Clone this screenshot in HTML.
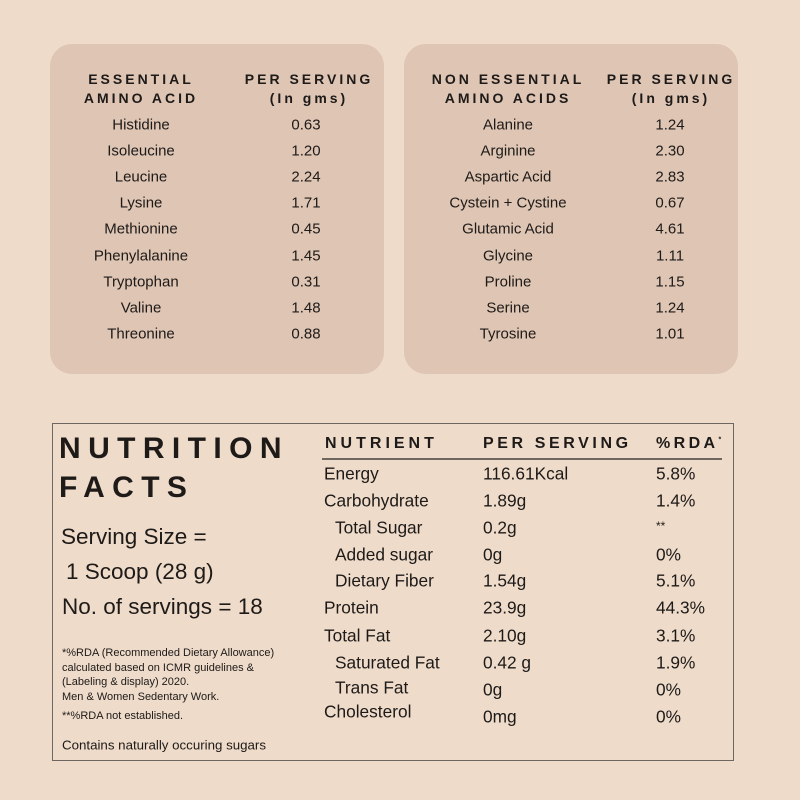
<!DOCTYPE html>
<html><head><style>
body{margin:0;width:800px;height:800px;background:#eedbca;font-family:"Liberation Sans",sans-serif;color:#1d1a18;position:relative;overflow:hidden}
.p{position:absolute;top:44px;width:334px;height:330px;background:#dfc5b4;border-radius:22px}
.t{position:absolute;white-space:nowrap;transform:translate(-50%,-50%);font-size:15px}
.h{font-weight:bold;letter-spacing:3px;font-size:14px}
.l{position:absolute;white-space:nowrap;transform:translateY(-50%)}
.n{font-size:17.3px}
.box{position:absolute;left:52px;top:423px;width:680px;height:336px;border:1.5px solid #6e6660}
</style></head><body>
<div class="p" style="left:50px"></div>
<div class="p" style="left:404px"></div>
<div class="t h" style="left:141px;top:79px">ESSENTIAL</div>
<div class="t h" style="left:141px;top:98px">AMINO ACID</div>
<div class="t h" style="left:309px;top:79px">PER SERVING</div>
<div class="t h" style="left:309px;top:98px">(In gms)</div>
<div class="t h" style="left:508px;top:79px">NON ESSENTIAL</div>
<div class="t h" style="left:508px;top:98px">AMINO ACIDS</div>
<div class="t h" style="left:671px;top:79px">PER SERVING</div>
<div class="t h" style="left:671px;top:98px">(In gms)</div>

<div class="t" style="left:141px;top:125px">Histidine</div><div class="t" style="left:306px;top:125px">0.63</div>
<div class="t" style="left:141px;top:151px">Isoleucine</div><div class="t" style="left:306px;top:151px">1.20</div>
<div class="t" style="left:141px;top:177px">Leucine</div><div class="t" style="left:306px;top:177px">2.24</div>
<div class="t" style="left:141px;top:203px">Lysine</div><div class="t" style="left:306px;top:203px">1.71</div>
<div class="t" style="left:141px;top:229px">Methionine</div><div class="t" style="left:306px;top:229px">0.45</div>
<div class="t" style="left:141px;top:256px">Phenylalanine</div><div class="t" style="left:306px;top:256px">1.45</div>
<div class="t" style="left:141px;top:282px">Tryptophan</div><div class="t" style="left:306px;top:282px">0.31</div>
<div class="t" style="left:141px;top:308px">Valine</div><div class="t" style="left:306px;top:308px">1.48</div>
<div class="t" style="left:141px;top:334px">Threonine</div><div class="t" style="left:306px;top:334px">0.88</div>

<div class="t" style="left:508px;top:125px">Alanine</div><div class="t" style="left:670px;top:125px">1.24</div>
<div class="t" style="left:508px;top:151px">Arginine</div><div class="t" style="left:670px;top:151px">2.30</div>
<div class="t" style="left:508px;top:177px">Aspartic Acid</div><div class="t" style="left:670px;top:177px">2.83</div>
<div class="t" style="left:508px;top:203px">Cystein + Cystine</div><div class="t" style="left:670px;top:203px">0.67</div>
<div class="t" style="left:508px;top:229px">Glutamic Acid</div><div class="t" style="left:670px;top:229px">4.61</div>
<div class="t" style="left:508px;top:256px">Glycine</div><div class="t" style="left:670px;top:256px">1.11</div>
<div class="t" style="left:508px;top:282px">Proline</div><div class="t" style="left:670px;top:282px">1.15</div>
<div class="t" style="left:508px;top:308px">Serine</div><div class="t" style="left:670px;top:308px">1.24</div>
<div class="t" style="left:508px;top:334px">Tyrosine</div><div class="t" style="left:670px;top:334px">1.01</div>

<div class="box"></div>
<div class="l" style="left:59px;top:449px;font-size:30px;font-weight:bold;letter-spacing:7.4px">NUTRITION</div>
<div class="l" style="left:59px;top:488px;font-size:30px;font-weight:bold;letter-spacing:7.4px">FACTS</div>
<div class="l" style="left:61px;top:537px;font-size:22.5px">Serving Size =</div>
<div class="l" style="left:66px;top:572px;font-size:22.5px">1 Scoop (28 g)</div>
<div class="l" style="left:62px;top:607px;font-size:22.5px">No. of servings = 18</div>
<div class="l" style="left:62px;top:653px;font-size:11px">*%RDA (Recommended Dietary Allowance)</div>
<div class="l" style="left:62px;top:668px;font-size:11px">calculated based on ICMR guidelines &amp;</div>
<div class="l" style="left:62px;top:682px;font-size:11px">(Labeling &amp; display) 2020.</div>
<div class="l" style="left:62px;top:697px;font-size:11px">Men &amp; Women Sedentary Work.</div>
<div class="l" style="left:62px;top:716px;font-size:11px">**%RDA not established.</div>
<div class="l" style="left:62px;top:745px;font-size:13.3px">Contains naturally occuring sugars</div>

<div class="l h" style="left:325px;top:444px;font-size:16px;letter-spacing:4px">NUTRIENT</div>
<div class="l h" style="left:483px;top:444px;font-size:16px;letter-spacing:3.6px">PER SERVING</div>
<div class="l h" style="left:656px;top:444px;font-size:16px;letter-spacing:3.4px">%RDA<sup style="font-size:7px">*</sup></div>
<div style="position:absolute;left:322px;top:458px;width:400px;height:1.5px;background:#6e6660"></div>

<div class="l n" style="left:324px;top:474px">Energy</div><div class="l n" style="left:483px;top:474px">116.61Kcal</div><div class="l n" style="left:656px;top:474px">5.8%</div>
<div class="l n" style="left:324px;top:501px">Carbohydrate</div><div class="l n" style="left:483px;top:501px">1.89g</div><div class="l n" style="left:656px;top:501px">1.4%</div>
<div class="l n" style="left:335px;top:528px">Total Sugar</div><div class="l n" style="left:483px;top:528px">0.2g</div><div class="l n" style="left:656px;top:526px;font-size:12px">**</div>
<div class="l n" style="left:335px;top:555px">Added sugar</div><div class="l n" style="left:483px;top:555px">0g</div><div class="l n" style="left:656px;top:555px">0%</div>
<div class="l n" style="left:335px;top:581px">Dietary Fiber</div><div class="l n" style="left:483px;top:581px">1.54g</div><div class="l n" style="left:656px;top:581px">5.1%</div>
<div class="l n" style="left:324px;top:608px">Protein</div><div class="l n" style="left:483px;top:608px">23.9g</div><div class="l n" style="left:656px;top:608px">44.3%</div>
<div class="l n" style="left:324px;top:636px">Total Fat</div><div class="l n" style="left:483px;top:636px">2.10g</div><div class="l n" style="left:656px;top:636px">3.1%</div>
<div class="l n" style="left:335px;top:663px">Saturated Fat</div><div class="l n" style="left:483px;top:663px">0.42 g</div><div class="l n" style="left:656px;top:663px">1.9%</div>
<div class="l n" style="left:335px;top:688px">Trans Fat</div><div class="l n" style="left:483px;top:690px">0g</div><div class="l n" style="left:656px;top:690px">0%</div>
<div class="l n" style="left:324px;top:712px">Cholesterol</div><div class="l n" style="left:483px;top:717px">0mg</div><div class="l n" style="left:656px;top:717px">0%</div>
</body></html>
